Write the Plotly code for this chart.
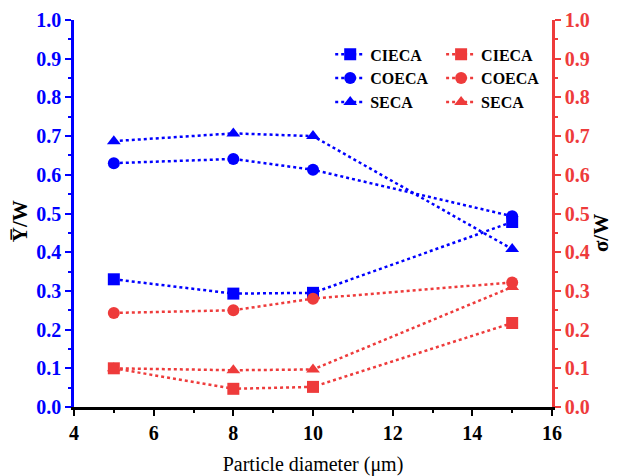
import plotly.graph_objects as go

# Particle diameters (µm)
diameter = [5, 8, 10, 15]

# Mean response ratio, left axis
ybar_cieca = [0.330, 0.293, 0.295, 0.478]
ybar_coeca = [0.630, 0.641, 0.613, 0.493]
ybar_seca = [0.687, 0.707, 0.700, 0.408]

# Standard deviation ratio, right axis
sigma_cieca = [0.100, 0.047, 0.052, 0.217]
sigma_coeca = [0.243, 0.250, 0.280, 0.322]
sigma_seca = [0.100, 0.095, 0.097, 0.310]

names = ["CIECA", "COECA", "SECA"]
symbols = ["square", "circle", "triangle-up"]

BLUE = "#0000FF"
RED = "#EE3B3B"
SERIF = "Liberation Serif"

fig = go.Figure()

for name, sym, ys in zip(names, symbols, [ybar_cieca, ybar_coeca, ybar_seca]):
    fig.add_trace(go.Scatter(
        x=diameter, y=ys, name=name, mode="lines+markers",
        line=dict(color=BLUE, width=2.5, dash="dot"),
        marker=dict(symbol=sym, size=12, color=BLUE),
        legend="legend", xaxis="x", yaxis="y"))

for name, sym, ys in zip(names, symbols, [sigma_cieca, sigma_coeca, sigma_seca]):
    fig.add_trace(go.Scatter(
        x=diameter, y=ys, name=name, mode="lines+markers",
        line=dict(color=RED, width=2.5, dash="dot"),
        marker=dict(symbol=sym, size=12, color=RED),
        legend="legend2", xaxis="x", yaxis="y2"))

fig.update_layout(
    width=617, height=476,
    margin=dict(l=74, r=65, t=20, b=69),
    paper_bgcolor="white", plot_bgcolor="white",
    font=dict(family=SERIF, color="black"),
    xaxis=dict(
        range=[4, 16], dtick=2, tick0=4, automargin=False,
        showgrid=False, zeroline=False,
        showline=True, linecolor="black", linewidth=2.5,
        ticks="outside", ticklen=6, tickwidth=2, tickcolor="black",
        minor=dict(dtick=1, ticks="outside", ticklen=3, tickwidth=2, tickcolor="black"),
        tickfont=dict(family=SERIF, size=20, color="black", weight="bold"),
        title=dict(text="Particle diameter (\u03bcm)",
                   font=dict(family=SERIF, size=20, color="black")),
    ),
    xaxis2=dict(
        range=[4, 16], dtick=2, tick0=4, overlaying="x", side="top", automargin=False,
        showgrid=False, zeroline=False, showticklabels=False,
        showline=True, linecolor="black", linewidth=2.5,
        ticks="inside", ticklen=5, tickwidth=2, tickcolor="black",
        minor=dict(dtick=1, ticks="inside", ticklen=3, tickwidth=2, tickcolor="black"),
    ),
    yaxis=dict(
        range=[0, 1], dtick=0.1, tickformat=".1f", automargin=False,
        showgrid=False, zeroline=False,
        showline=True, linecolor=BLUE, linewidth=2.5,
        ticks="outside", ticklen=6, tickwidth=2, tickcolor=BLUE,
        minor=dict(dtick=0.05, ticks="outside", ticklen=3, tickwidth=2, tickcolor=BLUE),
        tickfont=dict(family=SERIF, size=20, color=BLUE, weight="bold"),
    ),
    yaxis2=dict(
        range=[0, 1], dtick=0.1, tickformat=".1f", overlaying="y", side="right", automargin=False,
        showgrid=False, zeroline=False,
        showline=True, linecolor=RED, linewidth=2.5,
        ticks="outside", ticklen=6, tickwidth=2, tickcolor=RED,
        minor=dict(dtick=0.05, ticks="outside", ticklen=3, tickwidth=2, tickcolor=RED),
        tickfont=dict(family=SERIF, size=20, color=RED, weight="bold"),
    ),
    legend=dict(
        x=0.536, y=0.955, xanchor="left", yanchor="top",
        bgcolor="rgba(0,0,0,0)", borderwidth=0,
        font=dict(family=SERIF, size=16, color="black", weight="bold"),
        itemwidth=30, tracegroupgap=0,
    ),
    legend2=dict(
        x=0.768, y=0.955, xanchor="left", yanchor="top",
        bgcolor="rgba(0,0,0,0)", borderwidth=0,
        font=dict(family=SERIF, size=16, color="black", weight="bold"),
        itemwidth=30, tracegroupgap=0,
    ),
)

# Vertical axis titles
fig.add_annotation(text="Y\u0305/W", xref="paper", yref="paper", x=-0.113, y=0.48,
                   textangle=-90, showarrow=False, xanchor="center", yanchor="middle",
                   font=dict(family=SERIF, size=21, color="black", weight="bold"))
fig.add_annotation(text="\u03c3/W", xref="paper", yref="paper", x=1.103, y=0.45,
                   textangle=-90, showarrow=False, xanchor="center", yanchor="middle",
                   font=dict(family=SERIF, size=21, color="black", weight="bold"))

fig.write_html("out.html")
